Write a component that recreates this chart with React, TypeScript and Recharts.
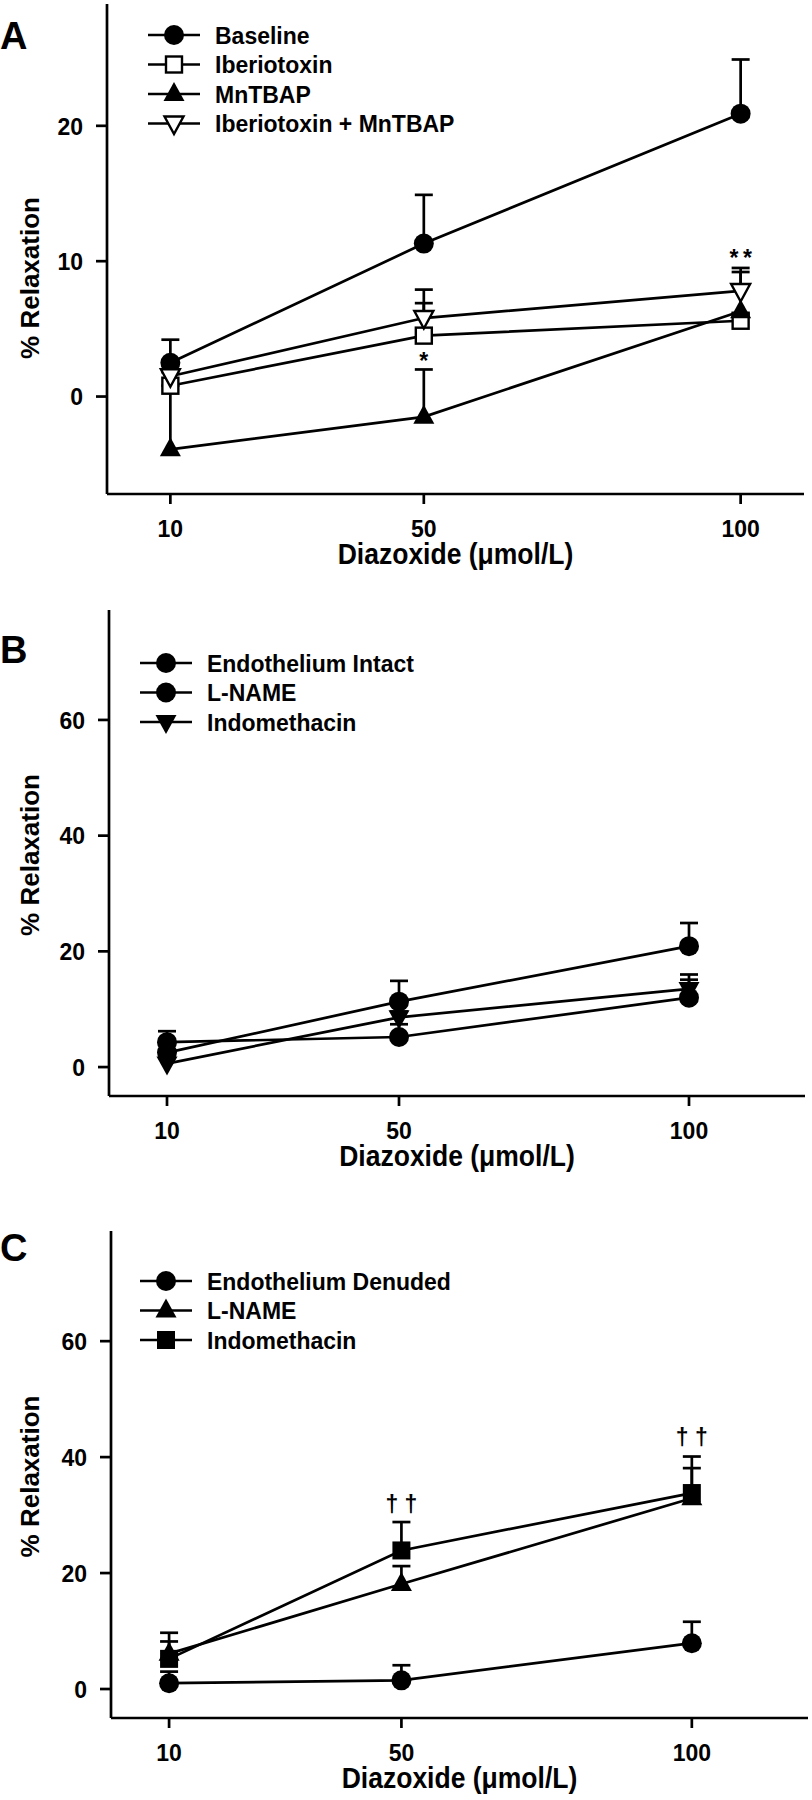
import { LineChart, Line, XAxis, YAxis, ErrorBar, Legend, ReferenceDot, Label } from 'recharts';

const FONT = "'Liberation Sans', Arial, Helvetica, sans-serif";
const STRETCH = 1.08; // the source figure's lettering is slightly taller than plain Arial

// x values (Diazoxide, µmol/L)
const doses = [10, 50, 100];
const xTicks = [10, 50, 100];

// Panel A
const baseline = [2.5, 11.3, 20.9];
const baselineSem = [1.7, 3.6, 4.0];
const iberiotoxin = [0.8, 4.5, 5.6];
const iberiotoxinSem = [1.0, 2.4, 0.5];
const mntbap = [-3.9, -1.5, 6.3];
const mntbapSem = [4.7, 3.5, 2.9];
const iberMn = [1.5, 5.8, 7.8];
const iberMnSem = [0.5, 2.1, 1.7];
const yTicksA = [0, 10, 20];

// Panel B
const intact = [2.5, 11.3, 20.9];
const intactSem = [1.7, 3.6, 4.0];
const lnameB = [4.3, 5.2, 12.0];
const lnameBSem = [1.9, 2.2, 3.1];
const indoB = [0.6, 8.6, 13.5];
const indoBSem = [1.0, 1.0, 2.5];

// Panel C
const denuded = [1.0, 1.5, 7.9];
const denudedSem = [2.0, 2.6, 3.7];
const lnameC = [6.1, 18.1, 32.9];
const lnameCSem = [2.1, 3.1, 5.2];
const indoC = [5.2, 23.9, 33.8];
const indoCSem = [4.5, 4.9, 6.3];

const yTicksBC = [0, 20, 40, 60];

type MarkerKind = 'circle' | 'squareOpen' | 'squareFilled' | 'triUp' | 'triDownOpen' | 'triDownFilled';
type Series = { key: string; name: string; values: number[]; sem: number[]; marker: MarkerKind };
type Note = { x: number; y: number; text: string; dy: string };

const seriesA: Series[] = [
  { key: 'baseline', name: 'Baseline', values: baseline, sem: baselineSem, marker: 'circle' },
  { key: 'iberiotoxin', name: 'Iberiotoxin', values: iberiotoxin, sem: iberiotoxinSem, marker: 'squareOpen' },
  { key: 'mntbap', name: 'MnTBAP', values: mntbap, sem: mntbapSem, marker: 'triUp' },
  { key: 'iberMn', name: 'Iberiotoxin + MnTBAP', values: iberMn, sem: iberMnSem, marker: 'triDownOpen' },
];
const seriesB: Series[] = [
  { key: 'intact', name: 'Endothelium Intact', values: intact, sem: intactSem, marker: 'circle' },
  { key: 'lname', name: 'L-NAME', values: lnameB, sem: lnameBSem, marker: 'circle' },
  { key: 'indo', name: 'Indomethacin', values: indoB, sem: indoBSem, marker: 'triDownFilled' },
];
const seriesC: Series[] = [
  { key: 'denuded', name: 'Endothelium Denuded', values: denuded, sem: denudedSem, marker: 'circle' },
  { key: 'lname', name: 'L-NAME', values: lnameC, sem: lnameCSem, marker: 'triUp' },
  { key: 'indo', name: 'Indomethacin', values: indoC, sem: indoCSem, marker: 'squareFilled' },
];

const notesA: Note[] = [
  { x: 50, y: 3.1, text: '*', dy: '0.62em' },
  { x: 100, y: 10.7, text: '*\u2009*', dy: '0.62em' },
];
const notesC: Note[] = [
  { x: 50, y: 31.7, text: '\u2020 \u2020', dy: '0.3em' },
  { x: 100, y: 43.3, text: '\u2020 \u2020', dy: '0.3em' },
];

function buildRows(series: Series[]) {
  return doses.map((d, i) => {
    const row: Record<string, any> = { dose: d };
    series.forEach((s) => {
      row[s.key] = s.values[i];
      row[s.key + 'Err'] = [0, s.sem[i]];
      row[s.key + 'Top'] = s.values[i] + s.sem[i];
    });
    return row;
  });
}

function drawMarker(kind: MarkerKind, cx: number, cy: number, key?: any) {
  switch (kind) {
    case 'circle':
      return <circle key={key} cx={cx} cy={cy} r={10} fill="#000" />;
    case 'squareOpen':
      return <rect key={key} x={cx - 8} y={cy - 8} width={16} height={16} fill="#fff" stroke="#000" strokeWidth={2.4} />;
    case 'squareFilled':
      return <rect key={key} x={cx - 9} y={cy - 9} width={18} height={18} fill="#000" />;
    case 'triUp':
      return <polygon key={key} points={`${cx},${cy - 12} ${cx + 10.5},${cy + 7} ${cx - 10.5},${cy + 7}`} fill="#000" />;
    case 'triDownOpen':
      return (
        <polygon key={key} points={`${cx - 9.5},${cy - 7} ${cx + 9.5},${cy - 7} ${cx},${cy + 10.5}`} fill="#fff" stroke="#000" strokeWidth={2.4} />
      );
    case 'triDownFilled':
      return <polygon key={key} points={`${cx - 10.5},${cy - 7} ${cx + 10.5},${cy - 7} ${cx},${cy + 12}`} fill="#000" />;
  }
}

const markerDot = (kind: MarkerKind) => (props: any) => {
  const { cx, cy, key } = props;
  if (cx == null || cy == null) return <g key={key} />;
  return drawMarker(kind, cx, cy, key);
};

const capDot = (props: any) => {
  const { cx, cy, key } = props;
  if (cx == null || cy == null) return <g key={key} />;
  return <line key={key} x1={cx - 9} x2={cx + 9} y1={cy} y2={cy} stroke="#000" strokeWidth={2.7} />;
};

function StretchText({ x, y, anchor, size, dy, children }: any) {
  return (
    <text
      transform={`translate(${x},${y}) scale(1,${STRETCH})`}
      dy={dy}
      textAnchor={anchor}
      fontFamily={FONT}
      fontWeight="bold"
      fontSize={size}
      fill="#000"
    >
      {children}
    </text>
  );
}

const XTick = (props: any) => {
  const { x, y, payload } = props;
  return (
    <StretchText x={x} y={y} anchor="middle" size={23} dy="0.71em">
      {payload.value}
    </StretchText>
  );
};

const YTick = (props: any) => {
  const { x, y, payload } = props;
  return (
    <StretchText x={x} y={y} anchor="end" size={23} dy="0.355em">
      {payload.value}
    </StretchText>
  );
};

function LegendBox({ items }: { items: Series[] }) {
  const step = 29.5;
  return (
    <svg width={440} height={items.length * step + 4} style={{ display: 'block' }}>
      {items.map((s, i) => {
        const cy = 15 + i * step;
        return (
          <g key={s.key + i}>
            <line x1={0} x2={52} y1={cy} y2={cy} stroke="#000" strokeWidth={2.7} />
            {drawMarker(s.marker, 26, cy)}
            <StretchText x={67} y={cy} anchor="start" size={23} dy="0.36em">
              {s.name}
            </StretchText>
          </g>
        );
      })}
    </svg>
  );
}

type PanelProps = {
  top: number;
  height: number;
  margin: { top: number; right: number; left: number; bottom: number };
  yAxisWidth: number;
  xAxisHeight: number;
  xDomain: [number, number];
  yDomain: [number, number];
  yTicks: number[];
  series: Series[];
  legendLeft: number;
  legendTop: number;
  yTitleShift: number;
  notes: Note[];
  letter: string;
  letterY: number;
};

function Panel(p: PanelProps) {
  const data = buildRows(p.series);
  return (
    <div style={{ position: 'absolute', left: 0, top: p.top, width: 812, height: p.height }}>
      <LineChart width={812} height={p.height} data={data} margin={p.margin}>
        <XAxis
          type="number"
          dataKey="dose"
          domain={p.xDomain}
          ticks={xTicks}
          interval={0}
          allowDataOverflow
          height={p.xAxisHeight}
          tickSize={10}
          tickMargin={15}
          axisLine={{ stroke: '#000', strokeWidth: 2.7 }}
          tickLine={{ stroke: '#000', strokeWidth: 2.7 }}
          tick={<XTick />}
        >
          <Label
            content={(lp: any) => {
              const vb = lp.viewBox;
              return (
                <StretchText x={vb.x + vb.width / 2} y={vb.y + 60} anchor="middle" size={26.5} dy="0.36em">
                  Diazoxide (μmol/L)
                </StretchText>
              );
            }}
          />
        </XAxis>
        <YAxis
          type="number"
          domain={p.yDomain}
          ticks={p.yTicks}
          interval={0}
          allowDataOverflow
          width={p.yAxisWidth}
          tickSize={11}
          tickMargin={13}
          axisLine={{ stroke: '#000', strokeWidth: 2.7 }}
          tickLine={{ stroke: '#000', strokeWidth: 2.7 }}
          tick={<YTick />}
        >
          <Label
            content={(lp: any) => {
              const vb = lp.viewBox;
              const cy = vb.y + vb.height / 2 + p.yTitleShift;
              return (
                <text
                  transform={`translate(30,${cy}) rotate(-90)`}
                  dy="0.36em"
                  textAnchor="middle"
                  fontFamily={FONT}
                  fontWeight="bold"
                  fontSize={26}
                  fill="#000"
                >
                  % Relaxation
                </text>
              );
            }}
          />
        </YAxis>
        <Legend
          layout="horizontal"
          verticalAlign="middle"
          align="center"
          wrapperStyle={{ left: p.legendLeft, top: p.legendTop, width: 440 }}
          content={() => <LegendBox items={p.series} />}
        />
        {p.series.map((s) => (
          <Line
            key={s.key + 'Top'}
            dataKey={s.key + 'Top'}
            stroke="none"
            dot={capDot}
            activeDot={false}
            legendType="none"
            isAnimationActive={false}
          />
        ))}
        {p.series.map((s) => (
          <Line
            key={s.key}
            dataKey={s.key}
            name={s.name}
            stroke="#000"
            strokeWidth={2.7}
            dot={markerDot(s.marker)}
            activeDot={false}
            isAnimationActive={false}
          >
            <ErrorBar dataKey={s.key + 'Err'} direction="y" width={0} stroke="#000" strokeWidth={2.7} />
          </Line>
        ))}
        {p.notes.map((n, i) => (
          <ReferenceDot
            key={'n' + i}
            x={n.x}
            y={n.y}
            r={0}
            ifOverflow="visible"
            shape={(sp: any) => (
              <text
                x={sp.cx}
                y={sp.cy}
                dy={n.dy}
                textAnchor="middle"
                fontFamily={FONT}
                fontWeight="bold"
                fontSize={23}
                fill="#000"
              >
                {n.text}
              </text>
            )}
          />
        ))}
      </LineChart>
      <div
        style={{
          position: 'absolute',
          left: 0,
          top: p.letterY - 21,
          fontFamily: FONT,
          fontWeight: 'bold',
          fontSize: 38,
          lineHeight: '42px',
          color: '#000',
        }}
      >
        {p.letter}
      </div>
    </div>
  );
}

export default function App() {
  return (
    <div style={{ position: 'absolute', left: 0, top: 0, width: 812, height: 1800, background: '#fff' }}>
      <Panel
        top={0}
        height={575}
        margin={{ top: 4, right: 8, left: 0, bottom: 0 }}
        yAxisWidth={107}
        xAxisHeight={81}
        xDomain={[0, 110]}
        yDomain={[-7.2, 29]}
        yTicks={yTicksA}
        series={seriesA}
        legendLeft={148}
        legendTop={20}
        yTitleShift={29}
        notes={notesA}
        letter="A"
        letterY={36}
      />
      <Panel
        top={575}
        height={615}
        margin={{ top: 35, right: 7, left: 0, bottom: 0 }}
        yAxisWidth={109}
        xAxisHeight={94}
        xDomain={[0, 120]}
        yDomain={[-5, 79]}
        yTicks={yTicksBC}
        series={seriesB}
        legendLeft={140}
        legendTop={73}
        yTitleShift={2}
        notes={[]}
        letter="B"
        letterY={75}
      />
      <Panel
        top={1190}
        height={610}
        margin={{ top: 41, right: 4, left: 0, bottom: 0 }}
        yAxisWidth={111}
        xAxisHeight={82}
        xDomain={[0, 120]}
        yDomain={[-5, 79]}
        yTicks={yTicksBC}
        series={seriesC}
        legendLeft={140}
        legendTop={76}
        yTitleShift={2}
        notes={notesC}
        letter="C"
        letterY={58}
      />
    </div>
  );
}
